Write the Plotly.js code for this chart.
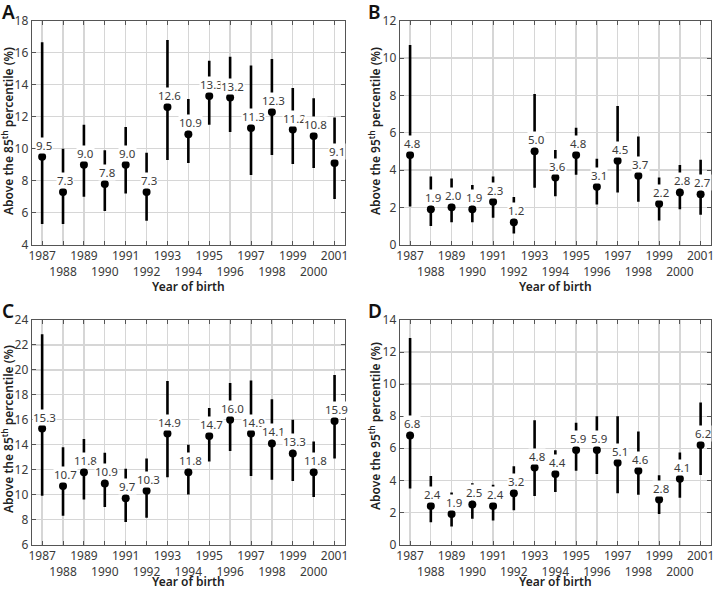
<!DOCTYPE html>
<html>
<head>
<meta charset="utf-8">
<script src="https://cdn.plot.ly/plotly-3.0.1.min.js"></script>
<style>html,body{margin:0;padding:0;background:#fff;}#chart{width:714px;height:591px;}</style>
</head>
<body>
<div id="chart"></div>
<script>
const years = [1987,1988,1989,1990,1991,1992,1993,1994,1995,1996,1997,1998,1999,2000,2001];

const A_val = [9.5,7.3,9.0,7.8,9.0,7.3,12.6,10.9,13.3,13.2,11.3,12.3,11.2,10.8,9.1];
const A_lo  = [5.3,5.3,7.0,6.1,7.2,5.5,9.3,9.1,11.5,11.05,8.35,9.6,9.05,8.8,6.85];
const A_hi  = [16.65,10.0,11.5,9.9,11.35,9.75,16.8,13.1,15.5,15.75,15.2,15.6,13.8,13.15,11.95];

const B_val = [4.8,1.9,2.0,1.9,2.3,1.2,5.0,3.6,4.8,3.1,4.5,3.7,2.2,2.8,2.7];
const B_lo  = [2.05,1.0,1.2,1.2,1.45,0.6,3.05,2.6,3.75,2.15,2.8,2.3,1.3,1.9,1.6];
const B_hi  = [10.7,3.65,3.55,3.2,3.65,2.55,8.07,5.07,6.27,4.6,7.43,5.8,3.6,4.27,4.55];

const C_val = [15.3,10.7,11.8,10.9,9.7,10.3,14.9,11.8,14.7,16.0,14.9,14.1,13.3,11.8,15.9];
const C_lo  = [9.9,8.3,9.6,9.0,7.8,8.15,11.4,10.0,12.65,13.5,11.5,11.2,11.1,9.8,12.9];
const C_hi  = [22.85,13.8,14.45,13.35,12.08,12.9,19.1,14.0,16.95,18.95,19.15,17.65,16.0,14.25,19.6];

const D_val = [6.8,2.4,1.9,2.5,2.4,3.2,4.8,4.4,5.9,5.9,5.1,4.6,2.8,4.1,6.2];
const D_lo  = [3.5,1.38,1.13,1.6,1.5,2.13,3.03,3.27,4.6,4.4,3.2,3.1,1.9,2.92,4.33];
const D_hi  = [12.88,4.27,3.25,3.82,3.72,4.88,7.75,5.88,7.6,8.0,8.0,7.05,4.32,5.73,8.85];

const panelLetters = ["A","B","C","D"];
const yTitles = [
  "Above the 85<sup>th</sup> percentile (%)",
  "Above the 95<sup>th</sup> percentile (%)",
  "Above the 85<sup>th</sup> percentile (%)",
  "Above the 95<sup>th</sup> percentile (%)"
];
const yRanges = [[4,18],[0,12],[6,24],[0,14]];
const xTitle = "Year of birth";

const panels = [
  {val:A_val, lo:A_lo, hi:A_hi},
  {val:B_val, lo:B_lo, hi:B_hi},
  {val:C_val, lo:C_lo, hi:C_hi},
  {val:D_val, lo:D_lo, hi:D_hi}
];

const W = 714, H = 591;
const xDomains = [[31.7/W, 345/W],[399.7/W, 711/W],[31.7/W, 345/W],[399.7/W, 711/W]];
const yDomains = [[(H-244.7)/H,(H-20.7)/H],[(H-244.7)/H,(H-20.7)/H],[(H-544.5)/H,(H-320)/H],[(H-544.5)/H,(H-320)/H]];
const letterPos = [[0,-3],[366,-3],[0,296],[366,296]];
const xTitleY = [[287,"middle"],[287,"middle"],[591,"bottom"],[591,"bottom"]];
const yTitlePos = [[8,131],[375,131],[8,429],[375,426]];

const tickText = years.map(y => (y % 2 === 1) ? String(y) : "<br>" + String(y));
const fontFam = "Noto Sans, Open Sans, sans-serif";

const data = [];
const layout = {
  width: W, height: H,
  margin: {l:0, r:0, t:0, b:0},
  paper_bgcolor: "#fff", plot_bgcolor: "#fff",
  showlegend: false,
  font: {family: fontFam, size: 12, color: "#3a3a3a"},
  annotations: []
};

panels.forEach((p, i) => {
  const n = i + 1;
  const xa = n === 1 ? "x" : "x" + n;
  const ya = n === 1 ? "y" : "y" + n;
  data.push({
    type: "scatter", mode: "markers",
    x: years, y: p.val,
    xaxis: xa, yaxis: ya,
    marker: {color: "#000", size: 8},
    error_y: {
      type: "data", symmetric: false,
      array: p.hi.map((h, k) => h - p.val[k]),
      arrayminus: p.lo.map((l, k) => p.val[k] - l),
      color: "#000", thickness: 2.6, width: 0
    },
    cliponaxis: false,
    hoverinfo: "skip"
  });
  layout["xaxis" + (n === 1 ? "" : n)] = {
    domain: xDomains[i], anchor: ya,
    range: [1986.5, 2001.5],
    tickvals: years, ticktext: tickText,
    tickangle: 0, ticklabeloverflow: "allow",
    showgrid: true, gridcolor: "#d6d6d6", gridwidth: 1.3,
    zeroline: false,
    showline: true, linecolor: "#555", linewidth: 1, mirror: "ticks",
    ticks: "inside", ticklen: 4, tickcolor: "#555",
    tickfont: {family: fontFam, size: 12, color: "#3a3a3a"}
  };
  layout["yaxis" + (n === 1 ? "" : n)] = {
    domain: yDomains[i], anchor: xa,
    range: yRanges[i], dtick: 2,
    showgrid: true, gridcolor: "#d6d6d6", gridwidth: 1.3,
    zeroline: false,
    showline: true, linecolor: "#555", linewidth: 1, mirror: "ticks",
    ticks: "inside", ticklen: 4, tickcolor: "#555",
    tickfont: {family: fontFam, size: 12, color: "#3a3a3a"}
  };
  p.val.forEach((v, k) => {
    layout.annotations.push({
      xref: xa, yref: ya, x: years[k], y: v,
      text: v.toFixed(1), showarrow: false,
      xanchor: "center", yanchor: "bottom",
      xshift: 2, yshift: 3,
      bgcolor: "#fff", borderpad: 0,
      font: {family: fontFam, size: 11.5, color: "#3a3a3a"}
    });
  });
  layout.annotations.push({
    xref: "paper", yref: "paper",
    x: (xDomains[i][0] + xDomains[i][1]) / 2, y: 1 - xTitleY[i][0] / H,
    xanchor: "center", yanchor: xTitleY[i][1],
    text: xTitle, showarrow: false, borderpad: 0,
    font: {family: fontFam, size: 12, color: "#222", weight: 600}
  });
  layout.annotations.push({
    xref: "paper", yref: "paper",
    x: yTitlePos[i][0] / W, y: 1 - yTitlePos[i][1] / H,
    xanchor: "center", yanchor: "middle", textangle: -90,
    text: yTitles[i], showarrow: false,
    font: {family: fontFam, size: 12, color: "#222", weight: 600}
  });
  layout.annotations.push({
    xref: "paper", yref: "paper",
    x: letterPos[i][0] / W, y: 1 - letterPos[i][1] / H,
    xanchor: "left", yanchor: "top",
    text: panelLetters[i], showarrow: false,
    font: {family: fontFam, size: 19, color: "#111", weight: 600}
  });
});

Plotly.newPlot("chart", data, layout, {staticPlot: true});
</script>
</body>
</html>
